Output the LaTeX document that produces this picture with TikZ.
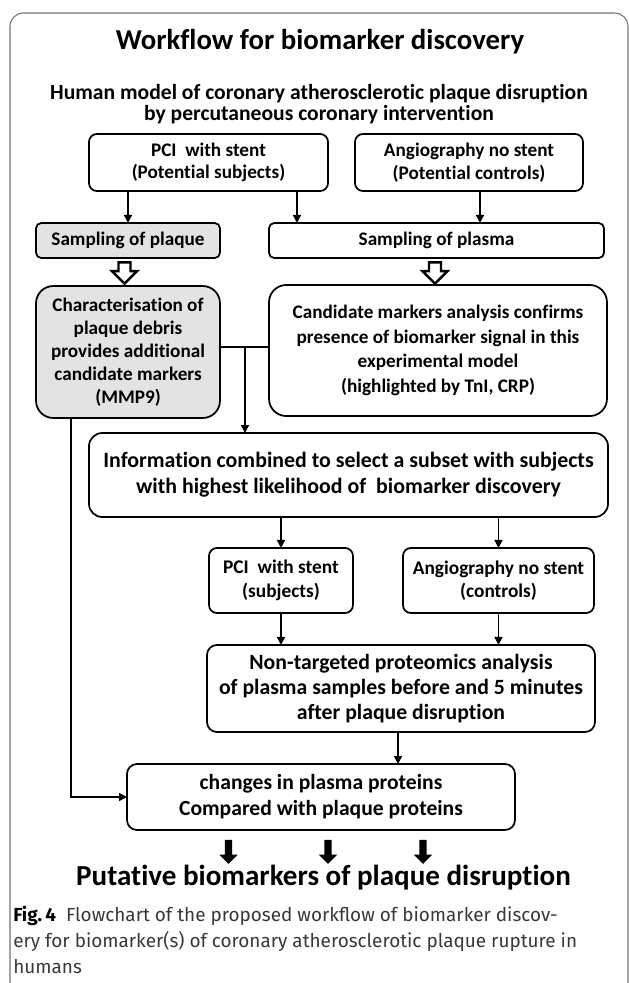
\documentclass[tikz,border=0pt]{standalone}
\usepackage{fontspec}
\setmainfont{Carlito}[Ligatures=NoCommon]
\newfontfamily\capfont{Fira Sans}
\usetikzlibrary{arrows.meta,shapes.arrows,calc}
\definecolor{plaquegray}{gray}{0.89}
\definecolor{framegray}{gray}{0.45}
\definecolor{captext}{gray}{0.22}

\begin{document}
\begin{tikzpicture}[x=0.75pt, y=-0.75pt, font=\bfseries\fontsize{14.4}{18.5}\selectfont]
	\tikzstyle{box}=[draw, line width=1.3pt, rounded corners=6pt, align=center, inner sep=0pt, outer sep=0pt]
	\tikzstyle{plaquebox}=[box, fill=plaquegray]
	\tikzstyle{arr}=[line width=1.1pt, -{Triangle[width=6pt,length=6pt]}]
	\tikzstyle{hollowarrow}=[single arrow, draw, line width=1.8pt, rotate=-90, minimum height=16pt, single arrow head extend=4.9pt, inner sep=3.6pt]
	\tikzstyle{blockarrow}=[single arrow, fill=black, rotate=-90, minimum height=18pt, single arrow head extend=4.1pt, inner sep=2.6pt]
	\useasboundingbox (0,0) rectangle (629,983);
	\draw[framegray, line width=0.8pt, rounded corners=10pt] (10,1000) -- (10,13) -- (628,13) -- (628,1000);

	\node[anchor=base, font=\bfseries\fontsize{21.6}{25}\selectfont] (title) at (320,49) {Workflow for biomarker discovery};
	\node[anchor=base, align=center, font=\bfseries\fontsize{16.2}{15.2}\selectfont] (model) at (319,120)
		{Human model of coronary atherosclerotic plaque disruption\\by percutaneous coronary intervention};

	\node[box, minimum width=179.3pt, minimum height=42.8pt, font=\bfseries\fontsize{14.4}{17}\selectfont] (pciA) at (208.5,162.5) {PCI\ \ with stent\\(Potential subjects)};
	\node[box, minimum width=171pt, minimum height=42.8pt, font=\bfseries\fontsize{14.4}{17}\selectfont] (angA) at (469,162.5) {Angiography no stent\\(Potential controls)};
	\node[plaquebox, rounded corners=4pt, minimum width=138pt, minimum height=26.3pt] (splaque) at (128,240.5) {Sampling of plaque};
	\node[box, rounded corners=4pt, minimum width=251.3pt, minimum height=26.3pt] (splasma) at (436.5,240.5) {Sampling of plasma};
	\node[plaquebox, rounded corners=13pt, minimum width=138pt, minimum height=99pt, font=\bfseries\fontsize{14.4}{17.3}\selectfont] (debris) at (128,352)
		{Characterisation of\\plaque debris\\provides additional\\candidate markers\\(MMP9)};
	\node[box, rounded corners=13pt, minimum width=253.5pt, minimum height=98.3pt, font=\bfseries\fontsize{14.4}{18.4}\selectfont] (cand) at (438,350.5)
		{Candidate markers analysis confirms\\presence of biomarker signal in this\\experimental model\\(highlighted by TnI, CRP)};
	\node[box, rounded corners=10pt, minimum width=389.3pt, minimum height=63pt, font=\bfseries\fontsize{16.4}{19.5}\selectfont] (info) at (348.5,475)
		{Information combined to select a subset with subjects\\with highest likelihood of\ \ biomarker discovery};
	\node[box, minimum width=108pt, minimum height=48.8pt, font=\bfseries\fontsize{14.5}{17.5}\selectfont] (pciB) at (281,580.5) {PCI\ \ with stent\\(subjects)};
	\node[box, minimum width=143.3pt, minimum height=48.8pt, font=\bfseries\fontsize{14.5}{17.5}\selectfont] (angB) at (498.5,580.5) {Angiography no stent\\(controls)};
	\node[box, rounded corners=7.5pt, minimum width=291pt, minimum height=65.3pt, font=\bfseries\fontsize{16.3}{18.8}\selectfont] (prot) at (401,688.5)
		{Non-targeted proteomics analysis\\of plasma samples before and 5 minutes\\after plaque disruption};
	\node[box, rounded corners=7.5pt, minimum width=291pt, minimum height=49.5pt, font=\bfseries\fontsize{16.2}{19.5}\selectfont] (change) at (321,797)
		{changes in plasma proteins\\Compared with plaque proteins};

	\coordinate (pciright) at (297,0);
	\coordinate (angright) at (480,0);
	\coordinate (join) at (245,347);
	\coordinate (leftrail) at (71,0);

	\draw[arr] (pciA.south -| splaque.north) -- (splaque.north);
	\draw[arr] (pciA.south -| pciright) -- (splasma.north -| pciright);
	\draw[arr] (angA.south -| angright) -- (splasma.north -| angright);
	\node[hollowarrow] (openA) at (124.5,270) {};
	\node[hollowarrow] (openB) at (435,270) {};
	\draw[line width=2.2pt] (debris.east |- join) -- (cand.west |- join);
	\draw[arr] (join) -- (info.north -| join);
	\draw[arr] (debris.south -| leftrail) |- (change.west);
	\draw[arr] (info.south -| pciB.north) -- (pciB.north);
	\draw[arr] (info.south -| angB.north) -- (angB.north);
	\draw[arr] (pciB.south) -- (pciB.south |- prot.north);
	\draw[arr] (angB.south) -- (angB.south |- prot.north);
	\draw[arr] (prot.south -| 398,0) -- (change.north -| 398,0);

	\node[blockarrow] (outA) at (228.5,850) {};
	\node[blockarrow] (outB) at (328,850) {};
	\node[blockarrow] (outC) at (423,850) {};
	\node[anchor=base, font=\bfseries\fontsize{21.8}{25}\selectfont] (putative) at (323.5,885) {Putative biomarkers of plaque disruption};

	\node[anchor=base west, align=left, inner sep=0pt, text=captext, font=\capfont\fontsize{14.2}{19.5}\selectfont] (caption) at (13,973)
		{{\bfseries\color{black}Fig.\,4}\ \ Flowchart of the proposed workflow of biomarker discov-\\ery for biomarker(s) of coronary atherosclerotic plaque rupture in\\humans};
\end{tikzpicture}
\end{document}
